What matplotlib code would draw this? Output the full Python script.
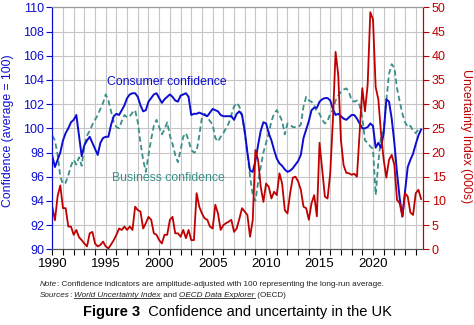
import numpy as np
import matplotlib
matplotlib.use('Agg')
import matplotlib.pyplot as plt
from matplotlib.ticker import MultipleLocator, FuncFormatter
from matplotlib.lines import Line2D

plt.rcParams['font.family'] = ['Liberation Sans', 'DejaVu Sans']

# quarterly values, 1990 Q1 onwards
START_YEAR = 1990
consumer = [
    97.7, 96.8, 97.4, 98.0, 99.0, 99.6, 100.0, 100.5, 100.7, 101.1,
    99.4, 97.7, 98.6, 99.0, 99.3, 98.8, 98.3, 97.8, 98.8, 99.2,
    99.3, 99.3, 100.3, 101.0, 101.2, 101.1, 101.5, 101.9, 102.5, 102.8,
    102.9, 102.9, 102.6, 101.9, 101.4, 101.5, 102.2, 102.5, 102.8, 102.9,
    102.5, 102.1, 102.4, 102.6, 102.8, 102.6, 102.3, 102.2, 102.7, 102.8,
    102.9, 102.6, 101.1, 101.2, 101.2, 101.3, 101.2, 101.1, 101.0, 101.3,
    101.6, 101.5, 101.4, 101.1, 101.0, 101.0, 101.0, 101.0, 100.7, 101.2,
    101.4, 101.1, 99.8, 98.0, 96.5, 96.4, 97.3, 98.6, 99.8, 100.5,
    100.4, 99.6, 99.0, 98.2, 97.5, 97.1, 96.9, 96.6, 96.4, 96.5,
    96.7, 97.0, 97.3, 97.8, 99.2, 99.9, 100.6, 101.5, 101.7, 101.7,
    102.2, 102.4, 102.5, 102.5, 102.3, 101.6, 101.1, 101.2, 101.0, 100.8,
    100.7, 100.9, 101.1, 101.1, 100.8, 100.4, 100.0, 100.0, 100.1, 100.4,
    100.2, 98.4, 98.8, 98.4, 99.6, 102.4, 102.2, 100.8, 98.8, 96.3,
    94.2, 92.7, 94.8, 96.8, 97.4, 97.9, 98.7, 99.4, 99.9,
]
business = [
    99.4, 99.0, 97.8, 96.0, 95.4, 95.5, 96.1, 96.9, 97.4, 97.0,
    97.6, 96.9, 98.6, 99.4, 99.8, 100.3, 100.7, 101.1, 101.6, 102.1,
    102.8, 102.3, 101.4, 100.5, 100.1, 100.0, 100.6, 101.1, 100.9, 101.0,
    101.3, 101.5, 100.5, 98.8, 97.4, 96.4, 97.8, 99.1, 100.2, 100.7,
    100.1, 99.5, 99.9, 100.5, 99.4, 98.7, 97.8, 97.2, 98.2, 99.3,
    99.6, 99.0, 98.2, 98.0, 98.1, 99.4, 100.9, 101.2, 100.9, 100.6,
    100.3, 99.2, 98.9, 99.3, 99.6, 100.0, 100.4, 101.1, 101.8, 102.1,
    101.8, 101.1, 99.6, 98.0, 96.0, 94.5, 94.0, 95.5, 96.8, 98.0,
    98.8, 99.6, 100.6, 101.2, 101.5, 101.1, 100.6, 99.5, 100.4, 100.3,
    100.1, 100.1, 100.1, 100.3, 101.8, 102.6, 102.3, 102.2, 101.9, 101.4,
    101.2, 100.7, 100.4, 100.6, 101.2, 101.5, 102.3, 102.7, 103.0, 103.2,
    103.3, 103.0, 102.3, 102.2, 102.3, 101.9, 100.9, 99.0, 98.8, 98.5,
    98.3, 94.5, 97.2, 99.3, 99.8, 102.3, 104.5, 105.3, 105.0, 103.3,
    102.2, 101.2, 100.5, 100.1, 100.2, 99.8, 99.6, 99.9, 99.9,
]
uncertainty = [
    8.8, 6.0, 11.0, 13.2, 8.5, 8.5, 4.7, 4.7, 3.0, 4.0,
    2.5, 1.9, 1.2, 0.6, 3.3, 3.6, 1.2, 0.6, 0.9, 1.6,
    0.6, 0.2, 1.0, 1.9, 3.0, 4.3, 4.0, 4.7, 4.0, 4.7,
    4.0, 8.8, 8.1, 7.8, 4.3, 5.4, 6.7, 6.1, 3.3, 3.0,
    1.9, 1.2, 3.0, 3.0, 6.1, 6.7, 3.3, 3.3, 2.6, 4.0,
    2.3, 4.0, 1.9, 1.9, 11.6, 8.8, 7.4, 6.4, 6.1, 4.7,
    4.3, 9.2, 7.4, 4.0, 5.0, 5.4, 5.7, 6.1, 3.6, 4.3,
    6.3, 8.5, 7.8, 7.1, 2.6, 6.0, 20.5, 18.5, 12.9, 9.8,
    13.6, 12.9, 10.5, 11.9, 11.2, 15.7, 13.6, 8.1, 7.4, 11.6,
    14.8, 15.0, 14.0, 12.3, 8.8, 8.5, 6.1, 9.5, 11.2, 6.8,
    22.0, 16.4, 10.9, 10.5, 15.7, 26.7, 40.8, 36.0, 22.6, 17.4,
    15.8, 15.7, 15.4, 15.6, 15.0, 24.0, 33.3, 28.5, 34.0, 49.0,
    47.5, 33.5, 31.0, 24.0, 18.5, 14.8, 18.5, 19.5, 17.4, 10.2,
    9.5, 6.8, 11.6, 10.9, 7.6, 7.1, 11.6, 12.3, 10.4,
]
quarters = START_YEAR + np.arange(len(consumer)) / 4

blue = '#0d0dd2'
red = '#c00000'
teal = '#3a8f88'
grid_grey = '#c6c6c6'

fig = plt.figure(figsize=(4.74, 3.25), dpi=100)
ax1 = fig.add_axes([0.1103, 0.2329, 0.7826, 0.7446])
ax2 = ax1.twinx()

ax1.plot(quarters, business, color=teal, linewidth=1.3, dashes=(3, 1.8))
ax1.plot(quarters, consumer, color=blue, linewidth=1.4)
ax2.plot(quarters, uncertainty, color=red, linewidth=1.3)

ax1.set_xlim(1990, 2024.7)
ax1.set_ylim(90, 110)
ax2.set_ylim(0, 50)
ax1.xaxis.set_major_locator(MultipleLocator(1))
ax1.xaxis.set_major_formatter(FuncFormatter(
    lambda v, p: str(int(round(v))) if int(round(v)) % 5 == 0 else ''))
ax1.yaxis.set_major_locator(MultipleLocator(2))
ax2.yaxis.set_major_locator(MultipleLocator(5))

ax1.grid(True, color=grid_grey, linewidth=0.8)
ax1.set_axisbelow(True)

ax1.tick_params(axis='x', direction='out', length=4, width=0.8, labelsize=9.5, pad=2)
ax1.tick_params(axis='y', direction='out', length=4, width=0.8, colors=blue, labelsize=9, pad=2)
ax2.tick_params(axis='y', direction='out', length=4, width=0.8, colors=red, labelsize=9, pad=2)

for ax in (ax1, ax2):
    ax.spines['left'].set_color(blue)
    ax.spines['right'].set_color(red)
    ax.spines['top'].set_color('#9a9a9a')
    ax.spines['bottom'].set_color('#555555')

ax1.set_ylabel('Confidence (average = 100)', color=blue, fontsize=8.8)
ax1.yaxis.set_label_coords(-0.102, 0.49)
ax2.set_ylabel('Uncertainty Index (000s)', color=red, fontsize=8.8, rotation=270, va='bottom')
ax2.yaxis.set_label_coords(1.098, 0.47)

ax1.text(1995.1, 103.85, 'Consumer confidence', color=blue, fontsize=8.8, va='center')
ax1.text(1995.6, 95.9, 'Business confidence', color=teal, fontsize=8.8, va='center')

renderer = fig.canvas.get_renderer()
W = fig.bbox.width
H = fig.bbox.height


def draw_runs(x, y, runs, size, color):
    # place pieces of text one after another on one baseline
    for txt, style, underline in runs:
        t = fig.text(x, y, txt, fontsize=size, va='baseline', ha='left', color=color, **style)
        bb = t.get_window_extent(renderer=renderer)
        if underline:
            yy = y - 1.2 / H
            fig.lines.append(Line2D([bb.x0 / W, bb.x1 / W], [yy, yy], transform=fig.transFigure,
                                    color=color, linewidth=0.6, figure=fig))
        x = bb.x1 / W


draw_runs(40 / W, 1 - 286 / H, [
    ('Note', {'style': 'italic'}, False),
    (': Confidence indicators are amplitude-adjusted with 100 representing the long-run average.', {}, False),
], 5.9, '#222222')
draw_runs(40 / W, 1 - 297 / H, [
    ('Sources', {'style': 'italic'}, False),
    (': ', {}, False),
    ('World Uncertainty Index', {'style': 'italic'}, True),
    (' and ', {}, False),
    ('OECD Data Explorer', {'style': 'italic'}, True),
    (' (OECD)', {}, False),
], 5.9, '#222222')
draw_runs(83 / W, 1 - 316 / H, [
    ('Figure 3', {'weight': 'bold'}, False),
    ('  Confidence and uncertainty in the UK', {}, False),
], 10.5, 'black')

fig.savefig('out.png', dpi=100)
